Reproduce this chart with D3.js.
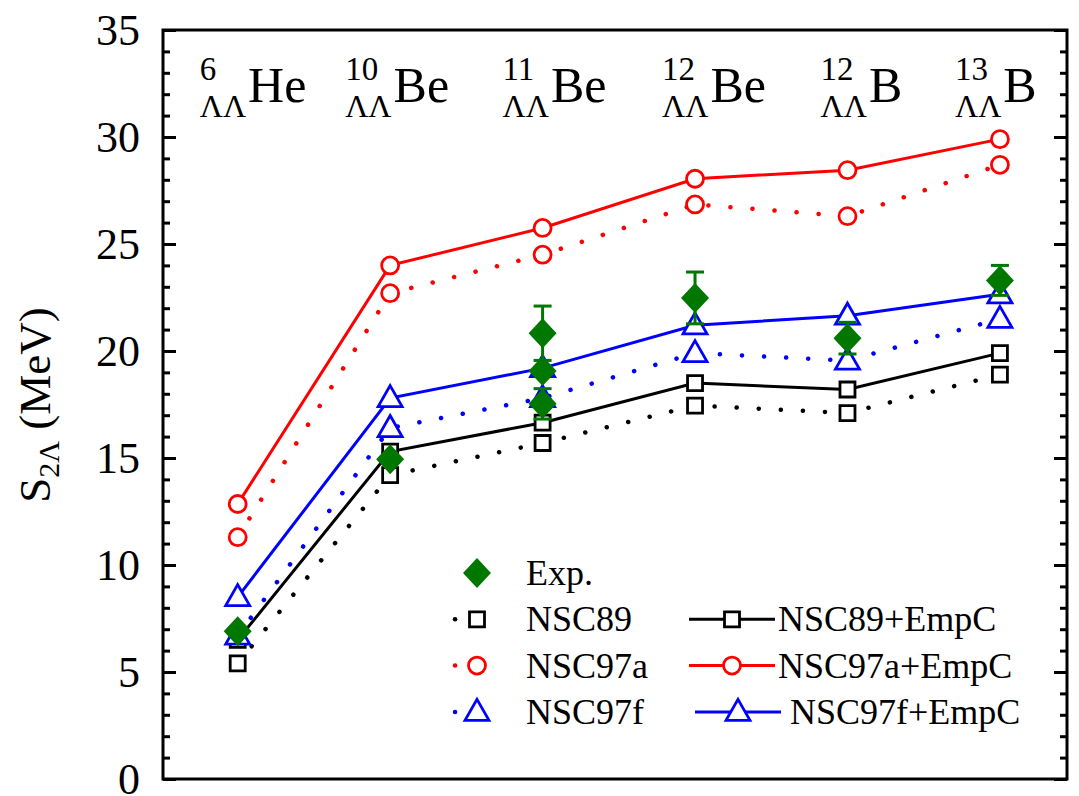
<!DOCTYPE html>
<html>
<head>
<meta charset="utf-8">
<script src="https://cdn.jsdelivr.net/npm/d3@7"></script>
<style>
  body { margin: 0; background: #fff; }
  svg { display: block; }
  svg text { font-family: "Liberation Serif", "Times New Roman", Times, serif; }
</style>
</head>
<body>
<svg width="1079" height="796"></svg>
<script>
const massNumbers = ['6', '10', '11', '12', '12', '13'];
const elements = ['He', 'Be', 'Be', 'Be', 'B', 'B'];

const nsc89 = [5.4, 14.2, 15.7, 17.45, 17.1, 18.9];
const nsc89Emp = [6.5, 15.3, 16.65, 18.5, 18.2, 19.9];
const nsc97a = [11.3, 22.7, 24.5, 26.85, 26.3, 28.7];
const nsc97aEmp = [12.85, 24.0, 25.75, 28.05, 28.45, 29.9];
const nsc97f = [6.7, 16.4, 17.8, 19.9, 19.55, 21.5];
const nsc97fEmp = [8.5, 17.8, 19.2, 21.2, 21.65, 22.65];

const expIndex = [0, 1, 2, 2, 2, 3, 4, 5];
const expValue = [6.91, 14.94, 20.83, 19.07, 17.53, 22.48, 20.60, 23.3];
const expError = [0.16, 0.13, 1.27, 0.11, 0.71, 1.21, 0.74, 0.7];

const yTicks = [0, 5, 10, 15, 20, 25, 30, 35];

const labelShift = [-38, -45, -40, -33, -27, -45];

const FONT = '"Liberation Serif", "Times New Roman", Times, serif';
const BLACK = '#000000';
const RED = '#ff0000';
const BLUE = '#0000ff';
const GREEN = '#007800';

const series = [
  { name: 'NSC89', values: nsc89, color: BLACK, marker: 'square', dotted: true },
  { name: 'NSC89+EmpC', values: nsc89Emp, color: BLACK, marker: 'square', dotted: false },
  { name: 'NSC97a', values: nsc97a, color: RED, marker: 'circle', dotted: true },
  { name: 'NSC97a+EmpC', values: nsc97aEmp, color: RED, marker: 'circle', dotted: false },
  { name: 'NSC97f', values: nsc97f, color: BLUE, marker: 'triangle', dotted: true },
  { name: 'NSC97f+EmpC', values: nsc97fEmp, color: BLUE, marker: 'triangle', dotted: false }
];

const svg = d3.select('svg');

const x = d3.scaleLinear().domain([-0.49, 5.44]).range([163, 1067]);
const y = d3.scaleLinear().domain([0, 35]).range([779, 30]);

const markerPath = {
  square: 'M-7.5,-7.5H7.5V7.5H-7.5Z',
  circle: 'M8.5,0A8.5,8.5 0 1,1 -8.5,0A8.5,8.5 0 1,1 8.5,0Z',
  triangle: 'M0,-12.5L12,8.5H-12Z',
  diamond: 'M0,-15L14,0L0,15L-14,0Z'
};

function drawMarker(g, type, color) {
  g.append('path')
    .attr('d', markerPath[type])
    .attr('fill', type === 'diamond' ? color : '#fff')
    .attr('stroke', type === 'diamond' ? 'none' : color)
    .attr('stroke-width', 2.8);
}

function styleLine(sel, s) {
  sel.attr('fill', 'none')
    .attr('stroke', s.color)
    .attr('stroke-width', s.dotted ? 4.5 : 3)
    .attr('stroke-linecap', s.dotted ? 'round' : 'butt')
    .attr('stroke-dasharray', s.dotted ? '0.1,22' : null);
}

// axes (ticks point inward)
const tickFont = g => g.attr('font-size', 44).attr('font-family', FONT)
  .call(g => g.select('.domain').remove())
  .call(g => g.selectAll('line').attr('stroke-width', 3));

svg.append('g')
  .attr('transform', `translate(${x.range()[0]},0)`)
  .call(d3.axisLeft(y).tickValues(d3.range(0, 36)).tickSize(-7).tickFormat(''))
  .call(tickFont);
svg.append('g')
  .attr('transform', `translate(${x.range()[0]},0)`)
  .call(d3.axisLeft(y).tickValues(yTicks).tickSize(-13).tickPadding(23).tickFormat(d3.format('d')))
  .call(tickFont)
  .call(g => g.selectAll('text').attr('fill', BLACK).attr('font-family', FONT));
svg.append('g')
  .attr('transform', `translate(${x.range()[1]},0)`)
  .call(d3.axisRight(y).tickValues(d3.range(0, 36)).tickSize(-7).tickFormat(''))
  .call(tickFont);
svg.append('g')
  .attr('transform', `translate(${x.range()[1]},0)`)
  .call(d3.axisRight(y).tickValues(yTicks).tickSize(-13).tickFormat(''))
  .call(tickFont);

svg.append('rect')
  .attr('x', x.range()[0])
  .attr('y', y.range()[1])
  .attr('width', x.range()[1] - x.range()[0])
  .attr('height', y.range()[0] - y.range()[1])
  .attr('fill', 'none')
  .attr('stroke', BLACK)
  .attr('stroke-width', 3);

// y label
const yLabel = svg.append('text')
  .attr('transform', 'translate(50,405) rotate(-90)')
  .attr('text-anchor', 'middle')
  .attr('font-family', FONT)
  .attr('font-size', 45)
  .attr('fill', BLACK);
yLabel.append('tspan').text('S');
yLabel.append('tspan').attr('font-size', 30).attr('dy', 9).text('2Λ');
yLabel.append('tspan').attr('dy', -9).text(' (MeV)');

// nucleus labels
massNumbers.forEach((m, i) => {
  const x0 = x(i) + labelShift[i];
  const g = svg.append('g').attr('fill', BLACK).attr('font-family', FONT);
  g.append('text').attr('x', x0).attr('y', 80).attr('font-size', 33).text(m);
  const sub = g.append('text').attr('x', x0).attr('y', 117).attr('font-size', 32).text('ΛΛ');
  const w = sub.node().getComputedTextLength();
  g.append('text').attr('x', x0 + w + 2).attr('y', 102).attr('font-size', 50).text(elements[i]);
});

// series
const line = d3.line().x((d, i) => x(i)).y(d => y(d));

series.forEach(s => {
  svg.append('path').datum(s.values).attr('d', line).call(styleLine, s);
  s.values.forEach((v, i) => {
    svg.append('g')
      .attr('transform', `translate(${x(i)},${y(v)})`)
      .call(drawMarker, s.marker, s.color);
  });
});

// experiment
const exp = expValue.map((v, k) => ({ i: expIndex[k], v: v, e: expError[k] }));

const errG = svg.append('g').attr('stroke', GREEN).attr('stroke-width', 3);
exp.forEach(d => {
  const cx = x(d.i);
  errG.append('line').attr('x1', cx).attr('x2', cx).attr('y1', y(d.v - d.e)).attr('y2', y(d.v + d.e));
  [d.v - d.e, d.v + d.e].forEach(t => {
    errG.append('line').attr('x1', cx - 9).attr('x2', cx + 9).attr('y1', y(t)).attr('y2', y(t));
  });
});
exp.forEach(d => {
  svg.append('g')
    .attr('transform', `translate(${x(d.i)},${y(d.v)})`)
    .call(drawMarker, 'diamond', GREEN);
});

// legend
const legendTop = 573;
const rowGap = 46.3;
const legend = svg.append('g').attr('font-size', 36).attr('font-family', FONT).attr('fill', BLACK);

const expRow = legend.append('g');
expRow.append('g').attr('transform', `translate(477,${legendTop})`).call(drawMarker, 'diamond', GREEN);
expRow.append('text').attr('x', 526).attr('y', legendTop + 12).text('Exp.');

series.forEach((s, k) => {
  const row = Math.floor(k / 2) + 1;
  const cy = legendTop + row * rowGap;
  const left = s.dotted;
  const shift = !left && row === 3 ? 6 : 0;
  const x1 = left ? 455 : 689 + shift;
  const x2 = left ? 503 : 775 + shift;
  const mx = left ? 477 : 732 + shift;
  const tx = left ? 526 : 778 + shift * 2;
  legend.append('path').attr('d', `M${x1},${cy}H${x2}`).call(styleLine, s)
    .attr('stroke-dasharray', left ? '0.1,48' : null);
  legend.append('g').attr('transform', `translate(${mx},${cy})`).call(drawMarker, s.marker, s.color);
  legend.append('text').attr('x', tx).attr('y', cy + 12).text(s.name);
});
</script>
</body>
</html>
